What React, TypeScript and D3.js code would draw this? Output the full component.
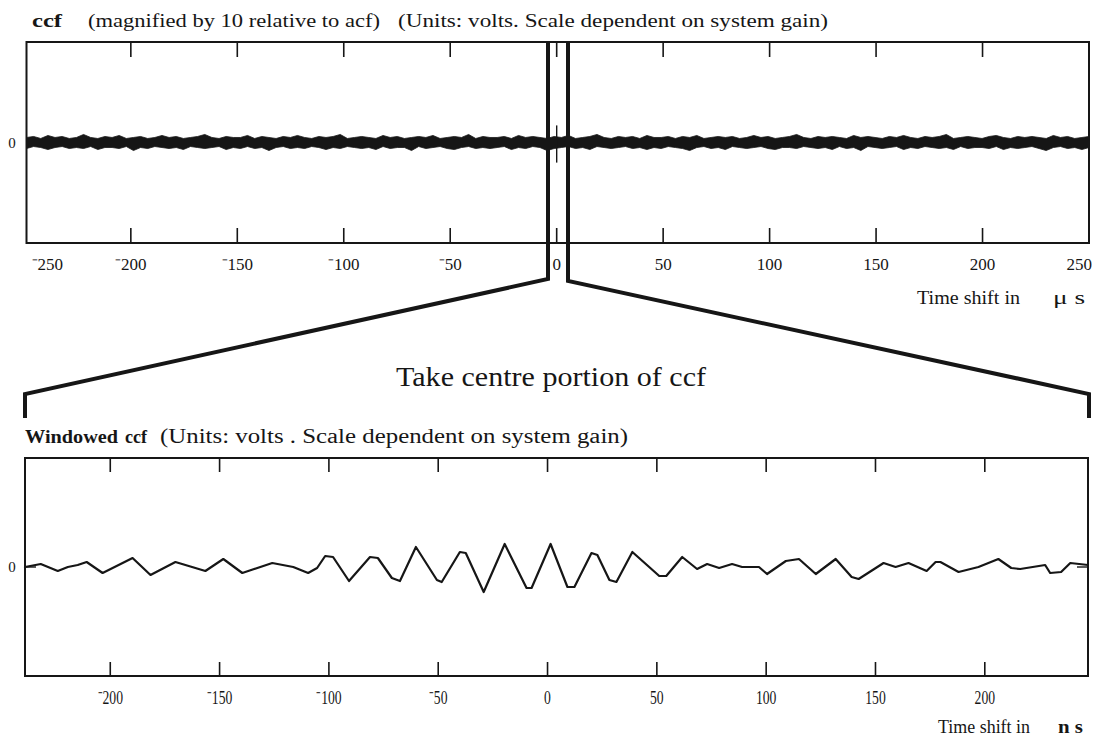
import React from "react";
import * as d3 from "d3";

// Cross-correlation (ccf) — full record, in microseconds
const topTicks = [-200, -150, -100, -50, 0, 50, 100, 150, 200];
const topLabels = [-250, -200, -150, -100, -50, 0, 50, 100, 150, 200, 250];
// envelope of the noise band around zero (units of 0.01 V), sampled evenly over the record
const noiseUpper = [5, 6, 4, 7, 5, 6, 4, 5, 8, 5, 4, 6, 5, 7, 4, 5, 6, 4, 5, 7, 5, 6, 4, 5, 6, 8, 5, 4, 6, 5, 5, 7, 4, 6, 5, 4, 6, 5, 7, 5, 4, 6, 5, 6, 8, 4, 5, 6, 5, 4, 7, 5, 6, 4, 5, 6, 5, 7, 4, 5, 6, 5, 8, 4, 6, 5, 5, 6, 4, 7, 5, 6, 5, 4, 6, 5, 7, 4, 5, 6, 8, 5, 4, 6, 5, 6, 4, 7, 5, 5, 6, 4, 6, 5, 7, 4, 5, 6, 5, 6, 4, 5, 7, 5, 6, 4, 5, 6, 8, 5, 4, 6, 5, 6, 5, 4, 7, 5, 6, 5, 4, 6, 5, 7, 5, 4, 6, 5, 6, 8, 4, 5, 6, 5, 4, 6, 7, 5, 4, 6, 5, 6, 5, 4, 7, 5, 6, 4, 5, 6];
const noiseLower = [6, 4, 5, 7, 5, 4, 6, 5, 6, 4, 7, 5, 5, 6, 4, 8, 5, 6, 4, 5, 6, 5, 7, 4, 5, 6, 5, 4, 7, 5, 6, 4, 6, 5, 8, 5, 4, 6, 5, 6, 4, 5, 7, 5, 6, 4, 5, 6, 5, 7, 4, 6, 5, 5, 8, 4, 6, 5, 4, 6, 7, 5, 4, 6, 5, 6, 5, 4, 7, 5, 6, 4, 5, 8, 6, 5, 4, 6, 5, 7, 4, 5, 6, 5, 4, 6, 5, 7, 5, 6, 4, 5, 6, 8, 5, 4, 6, 5, 7, 4, 5, 6, 5, 4, 6, 7, 5, 5, 6, 4, 5, 6, 5, 7, 4, 6, 5, 8, 4, 5, 6, 5, 4, 7, 5, 6, 4, 5, 6, 5, 7, 4, 6, 5, 5, 6, 4, 7, 5, 6, 5, 4, 6, 8, 5, 4, 6, 5, 7, 5];

// Windowed ccf — centre portion, in nanoseconds
const winTicks = [-200, -150, -100, -50, 0, 50, 100, 150, 200];
const winTime = [-239, -231.8, -224, -219.4, -214.9, -210.8, -203.5, -189.8, -181.6, -170.2, -156.5, -148.3, -139.6, -125.9, -116.3, -109.5, -105.4, -101.7, -98.1, -90.8, -81.2, -77.6, -71.2, -67.5, -60.2, -50.6, -48.4, -40.1, -37.4, -29.2, -19.6, -9.6, -7.3, 1.4, 9.1, 12.3, 20.1, 22.8, 28.3, 31.5, 38.8, 51.1, 54.3, 61.6, 68.4, 73.0, 78.5, 84.4, 89.0, 96.7, 100.4, 109.0, 115.0, 122.7, 131.8, 139.1, 142.3, 153.7, 159.2, 165.1, 173.4, 177.5, 179.7, 188.0, 197.1, 206.2, 212.1, 216.2, 227.6, 229.9, 234.9, 239.1, 247.2];
const winValue = [0, 0.3, -0.4, 0, 0.2, 0.5, -0.6, 0.9, -0.8, 0.5, -0.4, 0.8, -0.6, 0.4, 0, -0.6, -0.1, 1.1, 1.0, -1.4, 1.0, 0.9, -1.1, -1.4, 2.0, -1.3, -1.5, 1.5, 1.4, -2.5, 2.3, -2.1, -2.1, 2.3, -2.0, -2.0, 1.4, 1.2, -1.3, -1.5, 1.5, -0.9, -0.9, 1.0, -0.2, 0.3, -0.1, 0.3, 0, 0, -0.7, 0.6, 0.8, -0.7, 0.8, -1.0, -1.2, 0.4, 0, 0.4, -0.4, 0.5, 0.5, -0.5, 0, 0.8, -0.1, -0.2, 0.2, -0.6, -0.5, 0.4, 0.2];

const INK = "#161616";
const FONT = "Liberation Serif, Times New Roman, Times, serif";

const fmt = (v: number) => (v < 0 ? "\u207B" + Math.abs(v) : String(v));

export default function App() {
  // top panel geometry
  const T = { left: 26.5, right: 1089, top: 42, bottom: 243 };
  const xTop = d3.scaleLinear().domain([-249, 250]).range([T.left, T.right]);
  const yTop = d3.scaleLinear().domain([-1, 1]).range([T.bottom, T.top]);

  // bottom panel geometry
  const B = { left: 25, right: 1088, top: 458, bottom: 676 };
  const xBot = d3.scaleLinear().domain([-239, 247.2]).range([B.left, B.right]);
  const yBot = d3.scaleLinear().domain([-10.9, 10.9]).range([B.bottom, B.top]);

  const n = noiseUpper.length;
  const noisePts = noiseUpper.map((u, i) => ({
    t: -249 + (i * 499) / (n - 1),
    hi: u / 100,
    lo: -noiseLower[i] / 100,
  }));
  const band = d3
    .area<{ t: number; hi: number; lo: number }>()
    .x((d) => xTop(d.t))
    .y0((d) => yTop(d.lo))
    .y1((d) => yTop(d.hi));

  const winLine = d3
    .line<number>()
    .x((_, i) => xBot(winTime[i]))
    .y((v) => yBot(v));

  // zoom connector from the centre of the top record to the lower panel
  const cL = 548, cR = 568;
  const connL = `M${cL},${T.top} L${cL},279 L${B.left},394 L${B.left},418`;
  const connR = `M${cR},${T.top} L${cR},281 L${B.right + 1},394 L${B.right + 1},418`;

  return (
    <svg
      width={1097}
      height={739}
      style={{ position: "absolute", left: 0, top: 0, background: "#fff", fontFamily: FONT }}
    >
      <rect width={1097} height={739} fill="#fff" />

      {/* top heading */}
      <text x={32} y={27} fontSize={19} fontWeight="bold" fill={INK} textLength={30} lengthAdjust="spacingAndGlyphs">ccf</text>
      <text x={88} y={27} fontSize={19} fill={INK} textLength={292} lengthAdjust="spacingAndGlyphs">(magnified by 10 relative to acf)</text>
      <text x={398} y={27} fontSize={19} fill={INK} textLength={430} lengthAdjust="spacingAndGlyphs">(Units: volts. Scale dependent on system gain)</text>

      {/* top panel */}
      <path d={band(noisePts) || ""} fill={INK} stroke={INK} strokeWidth={0.8} strokeLinejoin="miter" />
      <rect x={T.left} y={T.top} width={T.right - T.left} height={T.bottom - T.top} fill="none" stroke={INK} strokeWidth={2} />
      {topTicks.map((t) => (
        <g key={"tt" + t} stroke={INK} strokeWidth={1.6}>
          <line x1={xTop(t)} x2={xTop(t)} y1={T.top} y2={T.top + 15} />
          <line x1={xTop(t)} x2={xTop(t)} y1={T.bottom} y2={T.bottom - 15} />
        </g>
      ))}
      <line x1={xTop(0)} x2={xTop(0)} y1={yTop(0.17)} y2={yTop(-0.2)} stroke={INK} strokeWidth={1.4} />
      <text x={12} y={148} fontSize={15} fill={INK} textAnchor="middle">0</text>
      {topLabels.map((t) => {
        let x = xTop(t);
        let anchor: "middle" | "start" | "end" = "middle";
        if (t === -250) { x = T.left + 5; anchor = "start"; }
        if (t === 250) { x = T.right + 3; anchor = "end"; }
        return (
          <text key={"tl" + t} x={x} y={270} fontSize={17} fill={INK} textAnchor={anchor}>
            {fmt(t)}
          </text>
        );
      })}
      <text x={917} y={304} fontSize={18} fill={INK} textLength={103} lengthAdjust="spacingAndGlyphs">Time shift in</text>
      <text x={1053} y={304} fontSize={18} fill={INK} textLength={32} lengthAdjust="spacingAndGlyphs">μ s</text>

      {/* connector and caption */}
      <path d={connL} fill="none" stroke={INK} strokeWidth={4} strokeLinejoin="miter" />
      <path d={connR} fill="none" stroke={INK} strokeWidth={4} strokeLinejoin="miter" />
      <text x={396} y={386} fontSize={28} fill={INK} textLength={310} lengthAdjust="spacingAndGlyphs">Take centre portion of ccf</text>

      {/* bottom heading */}
      <text x={25} y={443} fontSize={19} fontWeight="bold" fill={INK} textLength={93} lengthAdjust="spacingAndGlyphs">Windowed</text>
      <text x={125} y={443} fontSize={19} fontWeight="bold" fill={INK} textLength={22} lengthAdjust="spacingAndGlyphs">ccf</text>
      <text x={160} y={443} fontSize={20} fill={INK} textLength={468} lengthAdjust="spacingAndGlyphs">(Units: volts . Scale dependent on system gain)</text>

      {/* bottom panel */}
      <rect x={B.left} y={B.top} width={B.right - B.left} height={B.bottom - B.top} fill="none" stroke={INK} strokeWidth={2} />
      {winTicks.map((t) => (
        <g key={"wt" + t} stroke={INK} strokeWidth={1.6}>
          <line x1={xBot(t)} x2={xBot(t)} y1={B.top} y2={B.top + 14} />
          <line x1={xBot(t)} x2={xBot(t)} y1={B.bottom} y2={B.bottom - 14} />
        </g>
      ))}
      <line x1={B.left} x2={B.left + 11} y1={yBot(0)} y2={yBot(0)} stroke={INK} strokeWidth={1.4} />
      <line x1={B.right - 11} x2={B.right} y1={yBot(0)} y2={yBot(0)} stroke={INK} strokeWidth={1.4} />
      <path d={winLine(winValue) || ""} fill="none" stroke={INK} strokeWidth={2.2} strokeLinejoin="round" strokeLinecap="round" />
      <text x={12} y={572} fontSize={15} fill={INK} textAnchor="middle">0</text>
      {winTicks.map((t) => (
        <text
          key={"wl" + t}
          x={0}
          y={0}
          fontSize={19}
          fill={INK}
          textAnchor="middle"
          transform={`translate(${xBot(t)},704) scale(0.72,1)`}
        >
          {fmt(t)}
        </text>
      ))}
      <text x={938} y={733} fontSize={18} fill={INK} textLength={92} lengthAdjust="spacingAndGlyphs">Time shift in</text>
      <text x={1058} y={733} fontSize={18} fontWeight="bold" fill={INK} textLength={25} lengthAdjust="spacingAndGlyphs">n s</text>
    </svg>
  );
}
